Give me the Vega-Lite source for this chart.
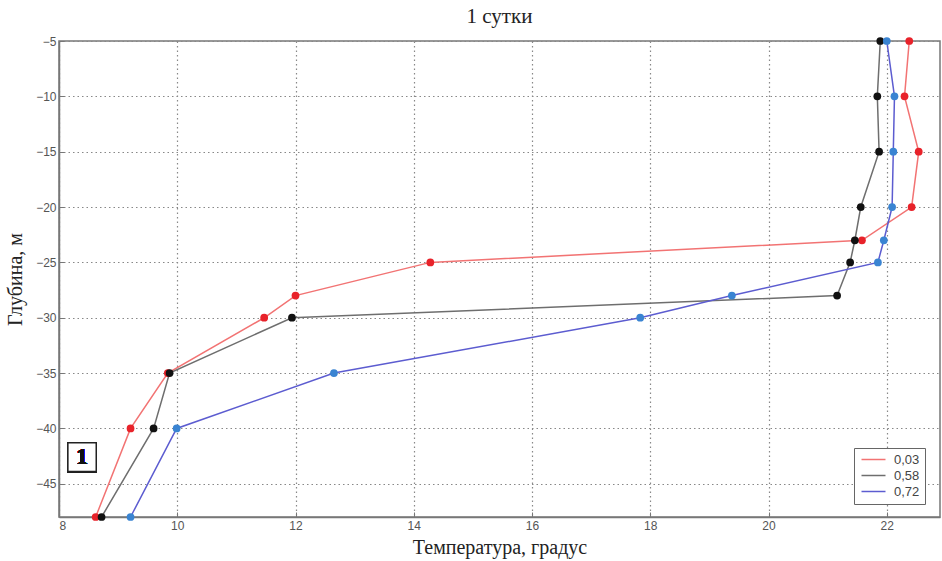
{
  "$schema": "https://vega.github.io/schema/vega-lite/v6.json",
  "autosize": {"type": "none"},
  "width": 881,
  "height": 476,
  "padding": {"left": 59, "top": 41, "right": 2, "bottom": 44},
  "background": "white",
  "title": {
    "text": "1 сутки",
    "font": "Liberation Serif",
    "fontSize": 21,
    "fontWeight": "normal",
    "color": "#222",
    "offset": 8
  },
  "config": {
    "view": {"stroke": "#777", "strokeWidth": 1.5},
    "axis": {
      "labelFont": "Liberation Sans",
      "labelFontSize": 12,
      "labelColor": "#555",
      "titleFont": "Liberation Serif",
      "titleFontSize": 20,
      "titleFontWeight": "normal",
      "titleColor": "#222",
      "domainColor": "#777",
      "domainWidth": 1.5,
      "tickColor": "#777",
      "tickSize": -5,
      "gridColor": "#888",
      "gridDash": [1.5, 3],
      "gridWidth": 1.2
    }
  },
  "data": {
    "values": [
      {"series": "0,03", "depth": -5, "temp": 22.38},
      {"series": "0,03", "depth": -10, "temp": 22.3},
      {"series": "0,03", "depth": -15, "temp": 22.54},
      {"series": "0,03", "depth": -20, "temp": 22.42},
      {"series": "0,03", "depth": -23, "temp": 21.58},
      {"series": "0,03", "depth": -25, "temp": 14.28},
      {"series": "0,03", "depth": -28, "temp": 12.0},
      {"series": "0,03", "depth": -30, "temp": 11.47},
      {"series": "0,03", "depth": -35, "temp": 9.84},
      {"series": "0,03", "depth": -40, "temp": 9.21},
      {"series": "0,03", "depth": -48, "temp": 8.62},
      {"series": "0,58", "depth": -5, "temp": 21.89},
      {"series": "0,58", "depth": -10, "temp": 21.84},
      {"series": "0,58", "depth": -15, "temp": 21.87},
      {"series": "0,58", "depth": -20, "temp": 21.56},
      {"series": "0,58", "depth": -23, "temp": 21.46},
      {"series": "0,58", "depth": -25, "temp": 21.38},
      {"series": "0,58", "depth": -28, "temp": 21.16},
      {"series": "0,58", "depth": -30, "temp": 11.94},
      {"series": "0,58", "depth": -35, "temp": 9.87},
      {"series": "0,58", "depth": -40, "temp": 9.6},
      {"series": "0,58", "depth": -48, "temp": 8.72},
      {"series": "0,72", "depth": -5, "temp": 22.0},
      {"series": "0,72", "depth": -10, "temp": 22.13},
      {"series": "0,72", "depth": -15, "temp": 22.11},
      {"series": "0,72", "depth": -20, "temp": 22.09},
      {"series": "0,72", "depth": -23, "temp": 21.95},
      {"series": "0,72", "depth": -25, "temp": 21.85},
      {"series": "0,72", "depth": -28, "temp": 19.38},
      {"series": "0,72", "depth": -30, "temp": 17.83},
      {"series": "0,72", "depth": -35, "temp": 12.65},
      {"series": "0,72", "depth": -40, "temp": 9.99},
      {"series": "0,72", "depth": -48, "temp": 9.21}
    ]
  },
  "encoding": {
    "x": {
      "field": "temp",
      "type": "quantitative",
      "scale": {"domain": [8, 22.9], "nice": false, "zero": false},
      "axis": {
        "title": "Температура, градус",
        "values": [8, 10, 12, 14, 16, 18, 20, 22],
        "labelPadding": 8,
        "titlePadding": 6
      }
    },
    "y": {
      "field": "depth",
      "type": "quantitative",
      "scale": {"domain": [-48, -5], "nice": false, "zero": false},
      "axis": {
        "title": "Глубина, м",
        "values": [-5, -10, -15, -20, -25, -30, -35, -40, -45],
        "labelPadding": 8,
        "titlePadding": 10
      }
    }
  },
  "layer": [
    {
      "mark": {"type": "line", "strokeWidth": 1.5},
      "encoding": {
        "order": {"field": "depth", "sort": "descending"},
        "color": {
          "field": "series",
          "type": "nominal",
          "scale": {"domain": ["0,03", "0,58", "0,72"], "range": ["#f27373", "#6e6e6e", "#5c5cd0"]},
          "legend": {
            "title": null,
            "orient": "none",
            "legendX": 795,
            "legendY": 407,
            "symbolType": "M-2.4,0H2.4",
            "symbolSize": 100,
            "symbolStrokeWidth": 1.5,
            "symbolOffset": 8,
            "labelFont": "Liberation Sans",
            "labelFontSize": 13,
            "labelColor": "#444",
            "labelOffset": 14,
            "rowPadding": 2,
            "padding": 5,
            "strokeColor": "#666",
            "fillColor": "white"
          }
        }
      }
    },
    {
      "mark": {"type": "point", "filled": true, "opacity": 1, "size": 60},
      "encoding": {
        "color": {
          "field": "series",
          "type": "nominal",
          "scale": {"domain": ["0,03", "0,58", "0,72"], "range": ["#e8222a", "#111111", "#3a84d2"]},
          "legend": null
        }
      }
    },
    {
      "mark": {"type": "rect", "fill": "white", "stroke": "#222", "strokeWidth": 1.5},
      "encoding": {
        "x": {"datum": 8.15},
        "x2": {"datum": 8.63},
        "y": {"datum": -41.3},
        "y2": {"datum": -43.9}
      }
    },
    {
      "mark": {"type": "text", "text": "1", "font": "Liberation Serif", "fontSize": 24, "fontWeight": "bold", "color": "#111", "baseline": "middle", "align": "center"},
      "encoding": {
        "x": {"datum": 8.39},
        "y": {"datum": -42.6}
      }
    }
  ],
  "resolve": {"scale": {"color": "independent"}}
}
